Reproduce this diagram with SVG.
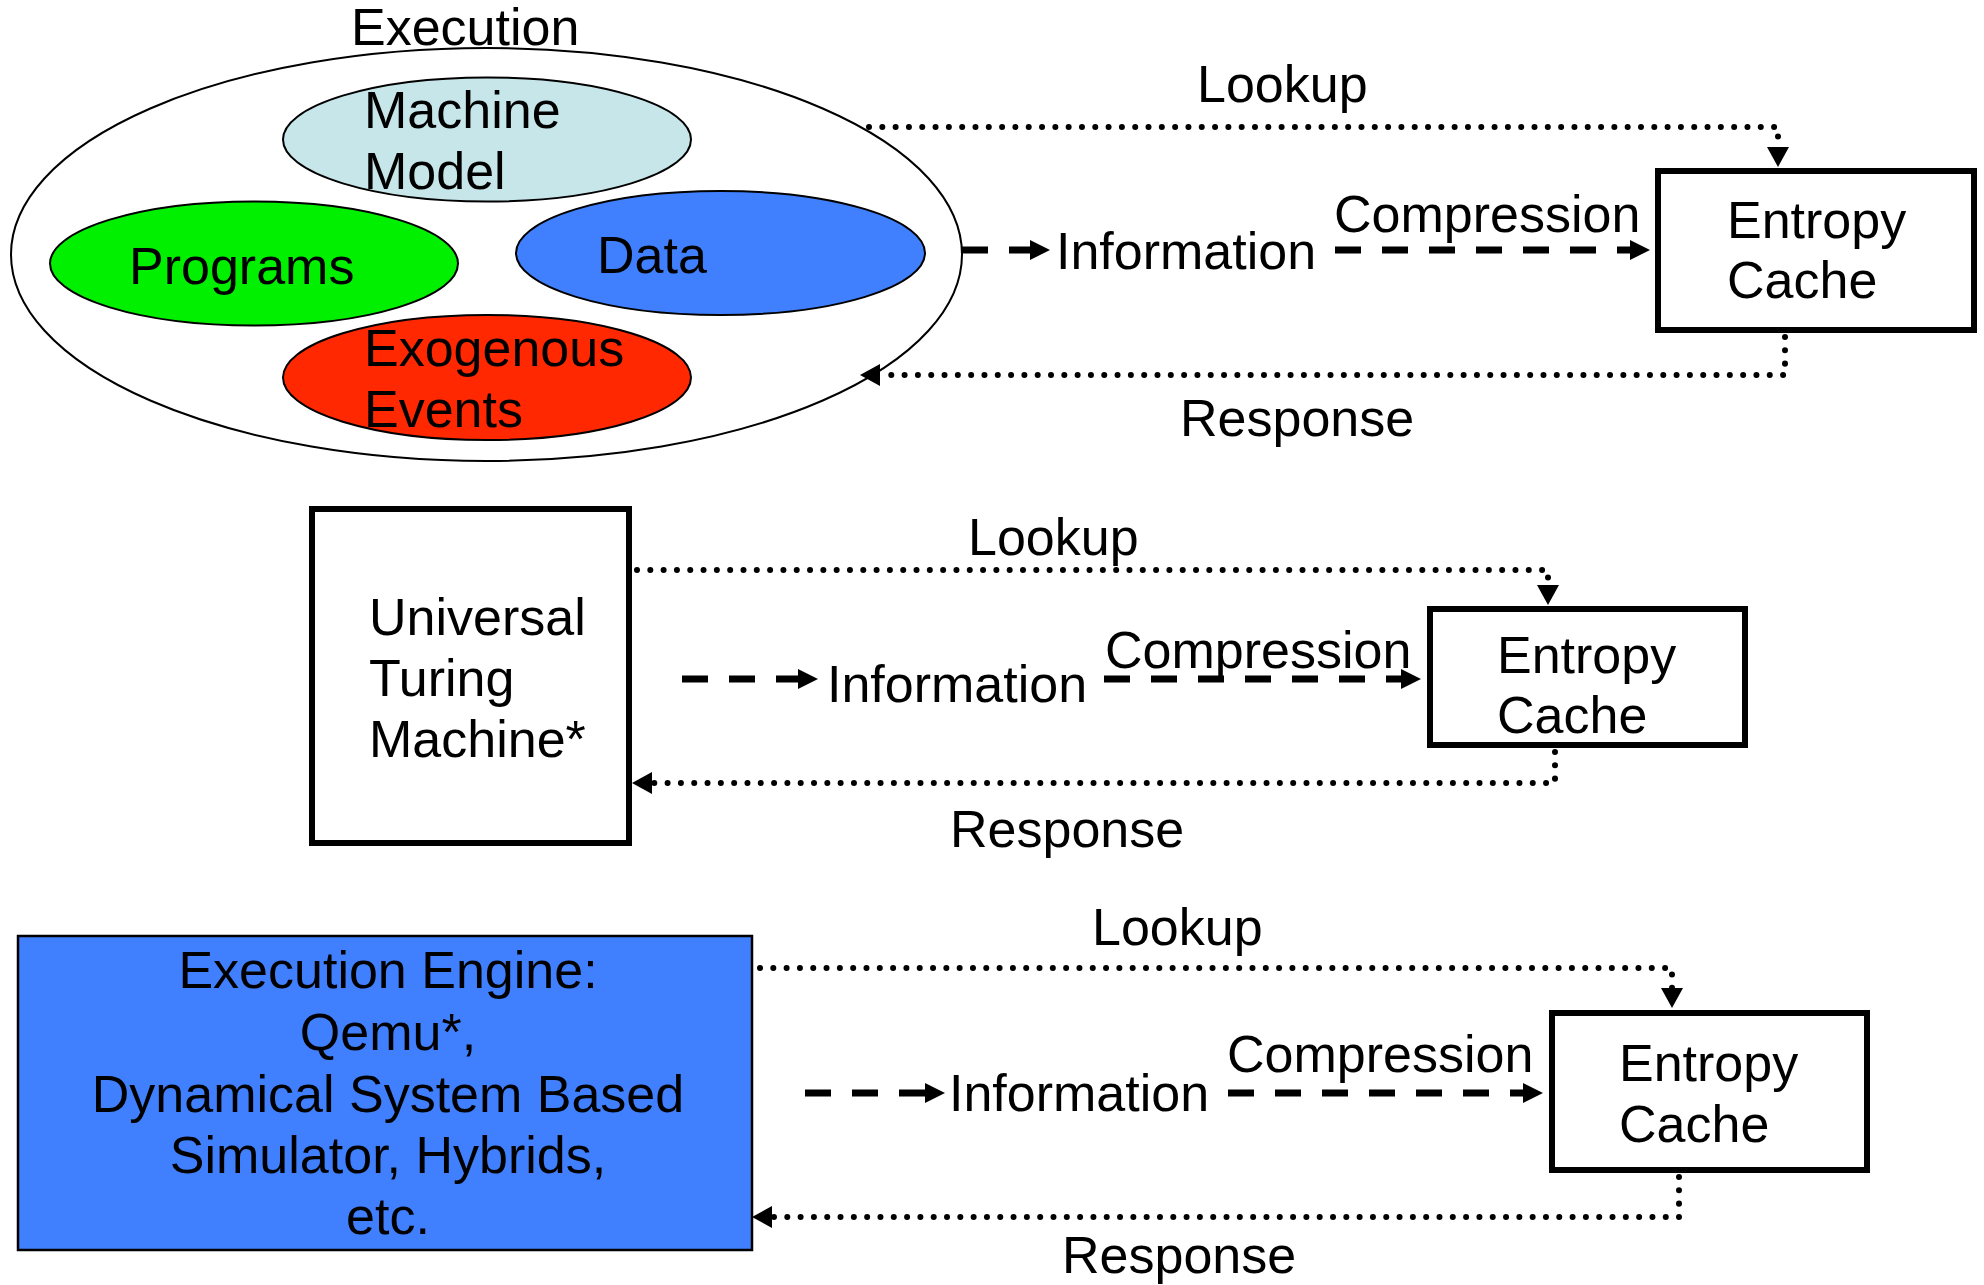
<svg xmlns="http://www.w3.org/2000/svg" width="1984" height="1285" viewBox="0 0 1984 1285">
  <style>
    text { font-family: "Liberation Sans", Arial, sans-serif; font-size: 52px; fill: #000; }
    .mid { text-anchor: middle; }
    .outline { stroke: #000; stroke-width: 2; }
    .box { fill: #fff; stroke: #000; stroke-width: 6; }
    .dash { fill: none; stroke: #000; stroke-width: 7; stroke-dasharray: 26 21; marker-end: url(#solidHead); }
    .dots { fill: none; stroke: #000; stroke-width: 6; stroke-linecap: round; stroke-dasharray: 0.01 13.3; marker-end: url(#dotHead); }
  </style>
  <defs>
    <marker id="solidHead" markerUnits="userSpaceOnUse" markerWidth="20" markerHeight="20" refX="0" refY="10" orient="auto">
      <path d="M0,0 L20,10 L0,20 z" fill="#000"/>
    </marker>
    <marker id="dotHead" markerUnits="userSpaceOnUse" markerWidth="20" markerHeight="22" refX="0" refY="11" orient="auto">
      <path d="M0,0 L20,11 L0,22 z" fill="#000"/>
    </marker>
  </defs>

  <rect width="1984" height="1285" fill="#fff"/>

  <!-- Row 1: execution ellipse -->
  <g id="execution">
    <ellipse cx="486.5" cy="254.5" rx="475.5" ry="206.5" fill="#fff" class="outline"/>
    <text x="351" y="45">Execution</text>
  </g>
  <g id="machine-model">
    <ellipse cx="487" cy="139.5" rx="204" ry="62" fill="#C6E6E9" class="outline"/>
    <text x="364" y="128">Machine</text>
    <text x="364" y="189">Model</text>
  </g>
  <g id="programs">
    <ellipse cx="254" cy="263.5" rx="204" ry="62" fill="#00F000" class="outline"/>
    <text x="129" y="284">Programs</text>
  </g>
  <g id="data">
    <ellipse cx="720.5" cy="253" rx="204.5" ry="62" fill="#4080FF" class="outline"/>
    <text x="597" y="273">Data</text>
  </g>
  <g id="exogenous-events">
    <ellipse cx="487" cy="377.5" rx="204" ry="62.5" fill="#FF2800" class="outline"/>
    <text x="364" y="366">Exogenous</text>
    <text x="364" y="427">Events</text>
  </g>
  <g id="cache-1">
    <rect x="1658" y="171" width="316" height="159" class="box"/>
    <text x="1727" y="238">Entropy</text>
    <text x="1727" y="298">Cache</text>
  </g>

  <!-- Row 2 -->
  <g id="utm">
    <rect x="312" y="509" width="317" height="334" class="box"/>
    <text x="369" y="635">Universal</text>
    <text x="369" y="696">Turing</text>
    <text x="369" y="757">Machine*</text>
  </g>
  <g id="cache-2">
    <rect x="1430" y="609" width="315" height="136" class="box"/>
    <text x="1497" y="673">Entropy</text>
    <text x="1497" y="733">Cache</text>
  </g>

  <!-- Row 3 -->
  <g id="engine">
    <rect x="18" y="936" width="734" height="314" fill="#4080FF" stroke="#000" stroke-width="2.5"/>
    <text class="mid" x="388" y="988">Execution Engine:</text>
    <text class="mid" x="388" y="1050">Qemu*,</text>
    <text class="mid" x="388" y="1112">Dynamical System Based</text>
    <text class="mid" x="388" y="1173">Simulator, Hybrids,</text>
    <text class="mid" x="388" y="1234">etc.</text>
  </g>
  <g id="cache-3">
    <rect x="1552" y="1013" width="315" height="157" class="box"/>
    <text x="1619" y="1081">Entropy</text>
    <text x="1619" y="1142">Cache</text>
  </g>

  <!-- Connectors and their labels -->
  <g id="connectors">
    <!-- row 1 -->
    <path class="dots" d="M869,127 H1778 V147"/>
    <text x="1197" y="102">Lookup</text>
    <path class="dash" d="M962,250 H1030"/>
    <text x="1056" y="269">Information</text>
    <path class="dash" d="M1335,250 H1630"/>
    <text x="1334" y="232">Compression</text>
    <path class="dots" d="M1785,337 V375 H880"/>
    <text x="1180" y="436">Response</text>

    <!-- row 2 -->
    <path class="dots" d="M637,570 H1548 V585"/>
    <text x="968" y="555">Lookup</text>
    <path class="dash" d="M682,679 H798"/>
    <text x="827" y="702">Information</text>
    <path class="dash" d="M1104,679 H1401"/>
    <text x="1105" y="668">Compression</text>
    <path class="dots" d="M1555,752 V783 H652"/>
    <text x="950" y="847">Response</text>

    <!-- row 3 -->
    <path class="dots" d="M760,968 H1672 V988"/>
    <text x="1092" y="945">Lookup</text>
    <path class="dash" d="M805,1093 H925"/>
    <text x="949" y="1111">Information</text>
    <path class="dash" d="M1228,1093 H1523"/>
    <text x="1227" y="1072">Compression</text>
    <path class="dots" d="M1679,1177 V1217 H772"/>
    <text x="1062" y="1273">Response</text>
  </g>
</svg>
